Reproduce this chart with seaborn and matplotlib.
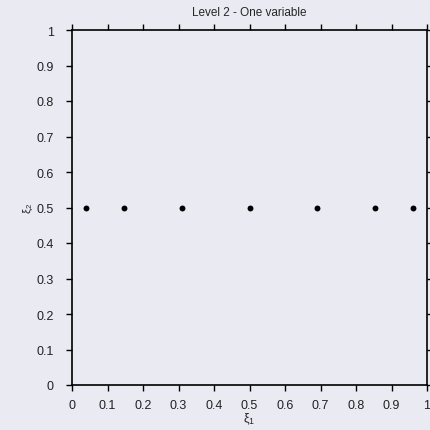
import numpy as np
import pandas as pd
import matplotlib
matplotlib.use('Agg')
import matplotlib.pyplot as plt
import seaborn as sns

# 節點座標
xi1 = [0.039, 0.147, 0.309, 0.5, 0.691, 0.853, 0.961]
xi2 = [0.5, 0.5, 0.5, 0.5, 0.5, 0.5, 0.5]
ticks = [0, 0.1, 0.2, 0.3, 0.4, 0.5, 0.6, 0.7, 0.8, 0.9, 1]
tick_labels = ['0', '0.1', '0.2', '0.3', '0.4', '0.5', '0.6', '0.7', '0.8', '0.9', '1']

sns.set_theme(style='dark')
plt.rcParams['font.family'] = ['Liberation Sans', 'DejaVu Sans']
plt.rcParams['mathtext.fontset'] = 'stix'

df = pd.DataFrame({'xi1': xi1, 'xi2': xi2})

fig = plt.figure(figsize=(4.3, 4.31), dpi=100)
fig.patch.set_facecolor('#eaeaf2')
ax = fig.add_axes([72 / 430, 45 / 431, 355 / 430, 355 / 431])
ax.set_facecolor('#eaeaf2')

sns.scatterplot(data=df, x='xi1', y='xi2', ax=ax, color='black', s=18,
                edgecolor='black', linewidth=0)

ax.set_xlim(0, 1)
ax.set_ylim(0, 1)
ax.set_xticks(ticks)
ax.set_xticklabels(tick_labels)
ax.set_yticks(ticks)
ax.set_yticklabels(tick_labels)
ax.tick_params(axis='both', which='both', direction='out', length=4, width=1,
               color='black', labelsize=9, labelcolor='#222222',
               top=True, right=True, bottom=True, left=True)
ax.tick_params(axis='x', pad=6)
ax.tick_params(axis='y', pad=9)
for sp in ax.spines.values():
    sp.set_visible(True)
    sp.set_color('black')
    sp.set_linewidth(1.2)

ax.set_title('Level 2 - One variable', fontsize=8.5, pad=11)
ax.set_xlabel(r'$\mathregular{\xi_1}$', fontsize=9, labelpad=0)
ax.set_ylabel(r'$\mathregular{\xi_2}$', fontsize=8, labelpad=1)
ax.grid(False)

fig.savefig('out.png', dpi=100)
